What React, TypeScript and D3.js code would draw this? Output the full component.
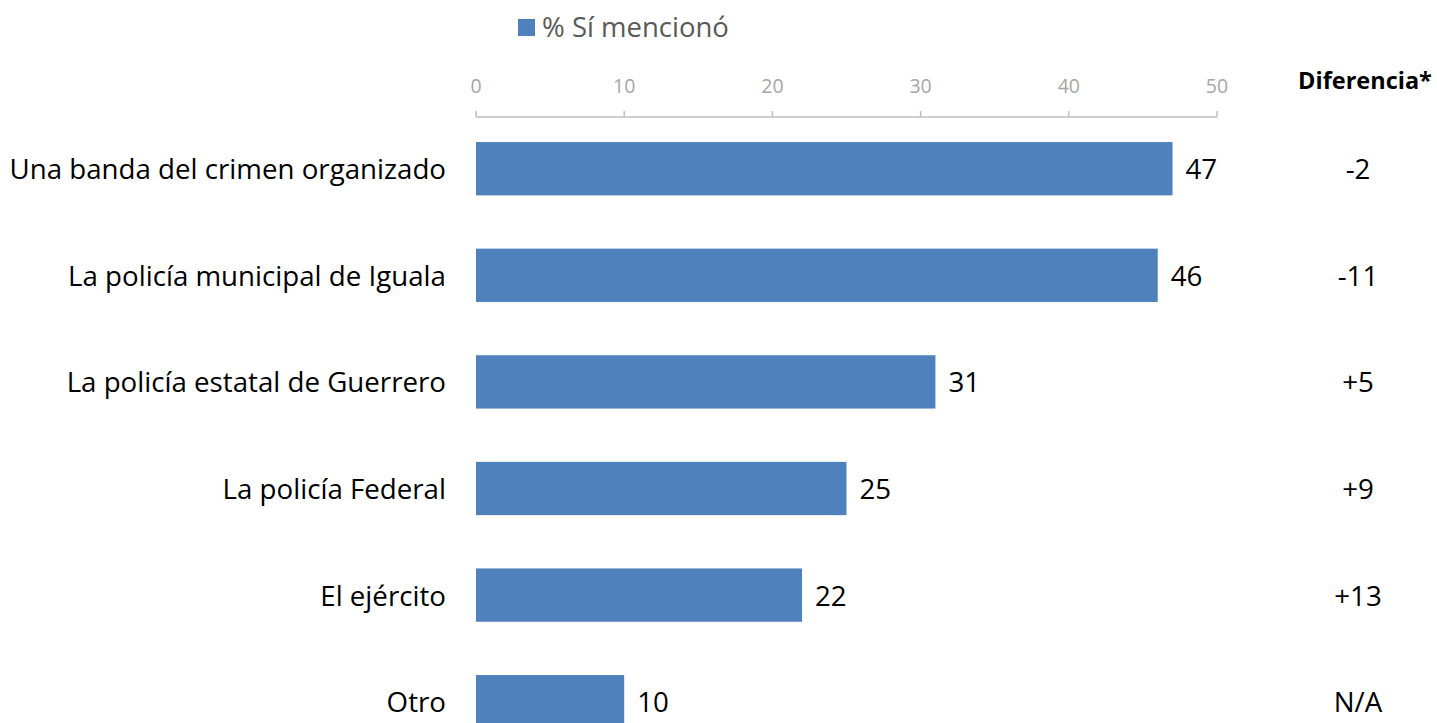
import React from "react";
import * as d3 from "d3";

const categories = [
  "Una banda del crimen organizado",
  "La policía municipal de Iguala",
  "La policía estatal de Guerrero",
  "La policía Federal",
  "El ejército",
  "Otro",
];
const values = [47, 46, 31, 25, 22, 10];
const differences = ["-2", "-11", "+5", "+9", "+13", "N/A"];
const ticks = [0, 10, 20, 30, 40, 50];
const legendLabel = "% Sí mencionó";
const diffTitle = "Diferencia*";

const W = 1437;
const H = 723;
const FONT = "'Open Sans', 'Noto Sans', sans-serif";

export default function App() {
  const x = d3.scaleLinear().domain([0, 50]).range([476, 1217]);
  const y = d3
    .scaleBand<string>()
    .domain(categories)
    .range([115.4, 115.4 + 6 * 106.6])
    .paddingInner(0.5)
    .paddingOuter(0.25);
  const axisY = 117;
  const bw = y.bandwidth();
  const FS = 27.7;
  return (
    <svg
      width={W}
      height={H}
      style={{ position: "absolute", left: 0, top: 0, background: "#fff" }}
      fontFamily={FONT}
    >
      {/* legend */}
      <rect x={518} y={19} width={17} height={17} fill="#4F81BD" />
      <text x={542} y={37} fontSize={27.5} fill="#595959">
        {legendLabel}
      </text>
      {/* axis */}
      <line x1={x(0)} x2={x(50)} y1={axisY} y2={axisY} stroke="#BFBFBF" strokeWidth={1.5} />
      {ticks.map((t) => (
        <g key={t}>
          <line x1={x(t)} x2={x(t)} y1={axisY - 6} y2={axisY} stroke="#BFBFBF" strokeWidth={1.5} />
          <text x={x(t)} y={93} fontSize={19.5} fill="#A6A6A6" textAnchor="middle">
            {t}
          </text>
        </g>
      ))}
      <text x={1365} y={89} fontSize={23.5} fontWeight="bold" fill="#000" textAnchor="middle">
        {diffTitle}
      </text>
      {categories.map((c, i) => {
        const yy = y(c)!;
        const cy = yy + bw / 2;
        return (
          <g key={c}>
            <rect x={x(0)} y={yy} width={x(values[i]) - x(0)} height={bw} fill="#4F81BD" />
            <text x={446} y={cy + 10.5} fontSize={FS} fill="#000" textAnchor="end">
              {c}
            </text>
            <text x={x(values[i]) + 13} y={cy + 10.5} fontSize={FS} fill="#000">
              {values[i]}
            </text>
            <text x={1358} y={cy + 10.5} fontSize={FS} fill="#000" textAnchor="middle">
              {differences[i]}
            </text>
          </g>
        );
      })}
    </svg>
  );
}
